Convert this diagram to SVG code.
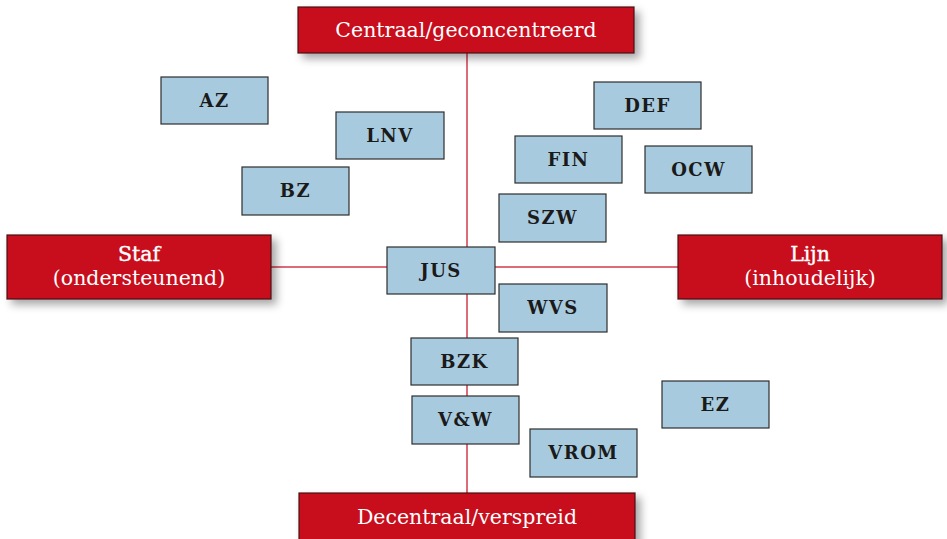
<svg xmlns="http://www.w3.org/2000/svg" width="947" height="539" viewBox="0 0 947 539">
<defs>
<filter id="sh" x="-10%" y="-20%" width="125%" height="160%">
<feDropShadow dx="5" dy="5" stdDeviation="4" flood-color="#000" flood-opacity="0.35"/>
</filter>
</defs>
<style>
.red{fill:#c8081e;stroke:#4a1010;stroke-width:1.2}
.rt{font-family:"DejaVu Serif","Liberation Serif",serif;font-size:20.5px;fill:#fff;text-anchor:middle}
.rb{stroke:#fff;stroke-width:0.4}
.blue{fill:#a8cade;stroke:#2e2e2e;stroke-width:1.2}
.bt{font-family:"DejaVu Serif","Liberation Serif",serif;font-size:18px;font-weight:bold;fill:#1a1a1a;text-anchor:middle;letter-spacing:1.5px}
.ln{stroke:#d23a4b;stroke-width:1.5;fill:none}
</style>
<rect width="947" height="539" fill="#fff"/>
<g id="connectors">
<line class="ln" x1="467" y1="53" x2="467" y2="493"/>
<line class="ln" x1="271" y1="267" x2="678" y2="267"/>
</g>
<g id="top"><rect class="red" filter="url(#sh)" x="298" y="7" width="336" height="46"/><text class="rt" x="466" y="37">Centraal/geconcentreerd</text></g>
<g id="left"><rect class="red" filter="url(#sh)" x="7" y="235" width="264" height="64"/><text class="rt rb" x="139" y="261">Staf</text><text class="rt" x="139" y="285">(ondersteunend)</text></g>
<g id="right"><rect class="red" filter="url(#sh)" x="678" y="235" width="264" height="64"/><text class="rt rb" x="810" y="261">Lijn</text><text class="rt" x="810" y="285">(inhoudelijk)</text></g>
<g id="bottom"><rect class="red" filter="url(#sh)" x="299" y="493" width="336" height="50"/><text class="rt" x="467" y="524">Decentraal/verspreid</text></g>
<g id="AZ"><rect class="blue" x="161" y="77" width="107" height="47"/><text class="bt" x="214.5" y="107">AZ</text></g>
<g id="LNV"><rect class="blue" x="336" y="112" width="108" height="47"/><text class="bt" x="390" y="142">LNV</text></g>
<g id="BZ"><rect class="blue" x="242" y="167" width="107" height="48"/><text class="bt" x="295.5" y="197">BZ</text></g>
<g id="JUS"><rect class="blue" x="387" y="247" width="108" height="47"/><text class="bt" x="441" y="277">JUS</text></g>
<g id="WVS"><rect class="blue" x="499" y="284" width="108" height="48"/><text class="bt" x="553" y="314">WVS</text></g>
<g id="DEF"><rect class="blue" x="594" y="82" width="107" height="47"/><text class="bt" x="647.5" y="112">DEF</text></g>
<g id="FIN"><rect class="blue" x="515" y="136" width="107" height="47"/><text class="bt" x="568.5" y="166">FIN</text></g>
<g id="OCW"><rect class="blue" x="645" y="146" width="107" height="47"/><text class="bt" x="698.5" y="176">OCW</text></g>
<g id="SZW"><rect class="blue" x="499" y="194" width="107" height="48"/><text class="bt" x="552.5" y="224">SZW</text></g>
<g id="BZK"><rect class="blue" x="411" y="338" width="107" height="47"/><text class="bt" x="464.5" y="368">BZK</text></g>
<g id="VW"><rect class="blue" x="412" y="396" width="107" height="48"/><text class="bt" x="465.5" y="426">V&amp;W</text></g>
<g id="VROM"><rect class="blue" x="530" y="429" width="107" height="48"/><text class="bt" x="583.5" y="459">VROM</text></g>
<g id="EZ"><rect class="blue" x="662" y="381" width="107" height="47"/><text class="bt" x="715.5" y="411">EZ</text></g>
</svg>
